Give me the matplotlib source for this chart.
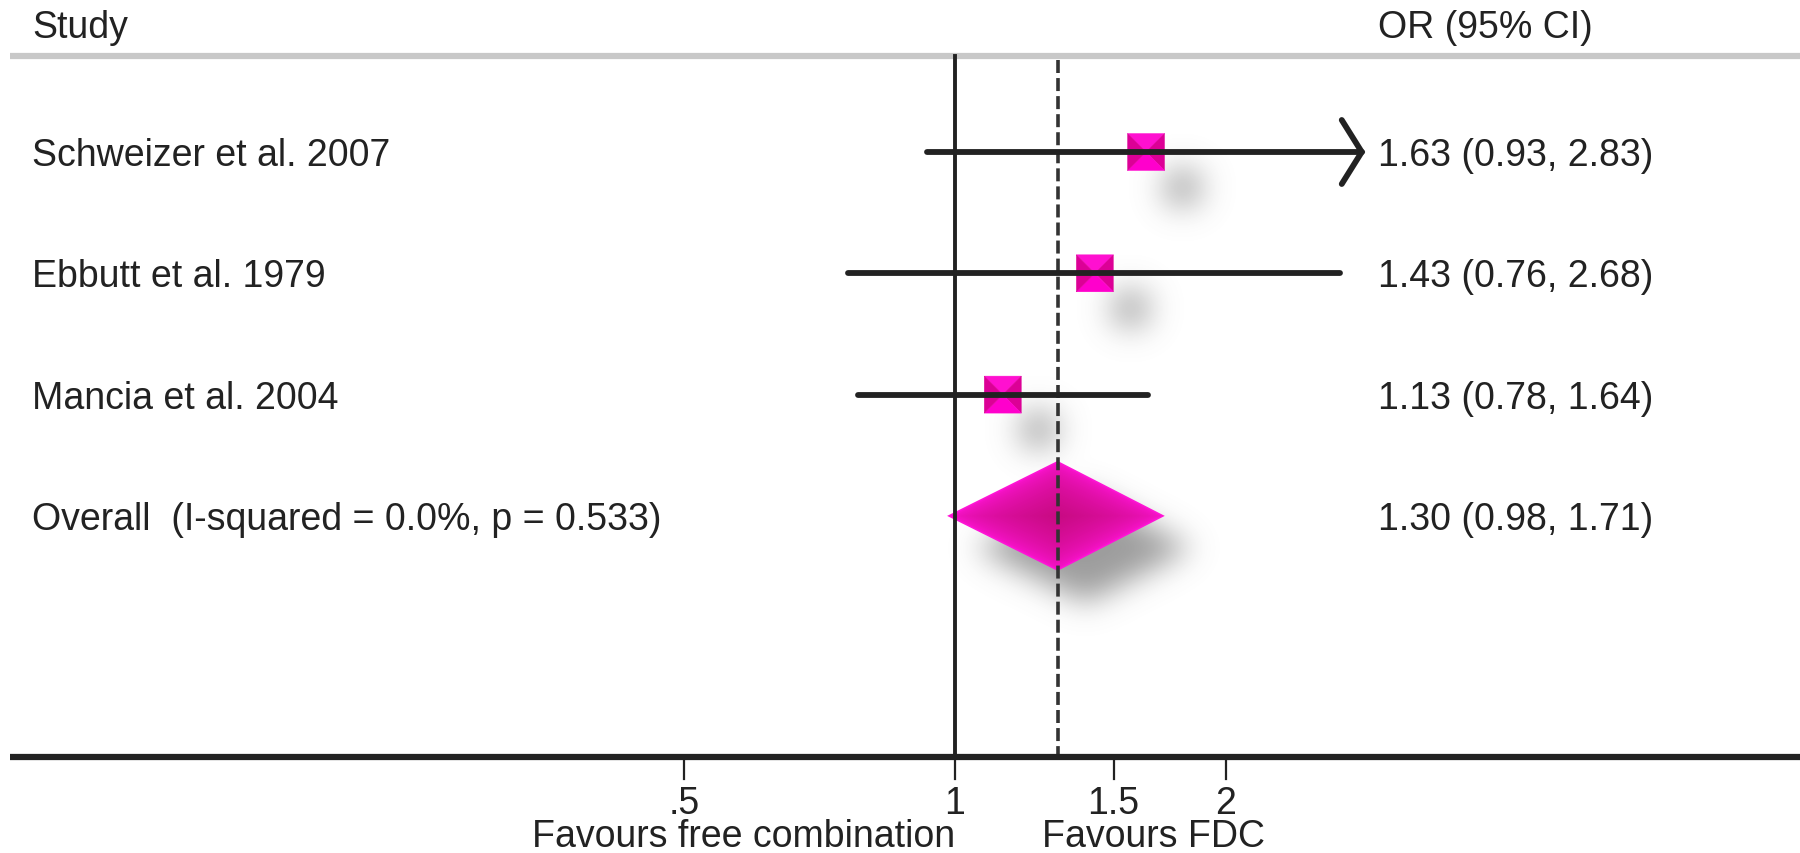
import numpy as np
import matplotlib
matplotlib.use("Agg")
import matplotlib.pyplot as plt
from matplotlib.path import Path
from matplotlib.patches import Polygon

plt.rcParams["font.family"] = ["Liberation Sans", "DejaVu Sans"]

# Study-level odds ratios and 95% confidence intervals
studies = ["Schweizer et al. 2007", "Ebbutt et al. 1979", "Mancia et al. 2004"]
or_est = [1.63, 1.43, 1.13]
ci_low = [0.93, 0.76, 0.78]
ci_high = [2.83, 2.68, 1.64]
ci_text = ["1.63 (0.93, 2.83)", "1.43 (0.76, 2.68)", "1.13 (0.78, 1.64)"]

overall_label = "Overall  (I-squared = 0.0%, p = 0.533)"
overall_or = 1.30
overall_low = 0.98
overall_high = 1.71
overall_text = "1.30 (0.98, 1.71)"

tick_values = [0.5, 1, 1.5, 2]
tick_labels = [".5", "1", "1.5", "2"]
arrow_clip = [True, False, False]

W, H, DPI = 1800, 854, 100
PINK = "#ff00cc"
PINK_DARK = "#dc0096"
INK = "#222222"
FS = 27

fig = plt.figure(figsize=(W / DPI, H / DPI), dpi=DPI)
ax = fig.add_axes([0, 0, 1, 1])
ax.set_xscale("log")
# 1 sits at x=955px, 391px per natural-log unit
ax.set_xlim(np.exp(-955 / 391), np.exp((W - 955) / 391))
ax.set_ylim(H, 0)
ax.axis("off")

# pixel overlay for shaped markers and soft shadows
pax = fig.add_axes([0, 0, 1, 1], zorder=-1)
pax.set_xlim(0, W)
pax.set_ylim(H, 0)
pax.axis("off")
pax.patch.set_alpha(0)

ROW0, ROW_STEP = 153, 121.3
row_y = [ROW0 + ROW_STEP * i for i in range(len(studies))]
overall_y = ROW0 + ROW_STEP * len(studies)
AXIS_Y, TOP_Y = 758, 57
TXT_DY = 3


def px(x, y):
    d = ax.transData.transform((x, y))
    return d[0], H - d[1]


# header
ax.text(32, 25 + TXT_DY, "Study", fontsize=FS, color=INK, va="center", ha="left",
        transform=pax.transData)
ax.text(1378, 25 + TXT_DY, "OR (95% CI)", fontsize=FS, color=INK, va="center",
        ha="left", transform=pax.transData)
pax.plot([10, W], [TOP_Y, TOP_Y], color="#c8c8c8", lw=4.5, solid_capstyle="butt")

# reference lines
ax.plot([1, 1], [TOP_Y, AXIS_Y], color=INK, lw=2.8, zorder=2)
ax.plot([overall_or, overall_or], [TOP_Y + 4, AXIS_Y], color="#333333", lw=2.6,
        ls=(0, (3.6, 1.4)), zorder=2)

# x axis
ax.plot([np.exp(-945 / 391), ax.get_xlim()[1]], [AXIS_Y, AXIS_Y], color=INK,
        lw=4.5, solid_capstyle="butt", zorder=3)
for v, lab in zip(tick_values, tick_labels):
    ax.plot([v, v], [AXIS_Y, AXIS_Y + 22], color=INK, lw=1.6, zorder=3)
    ax.text(v, 814, lab, fontsize=FS, color=INK, ha="center", va="baseline")
ax.text(1, 847, "Favours free combination", fontsize=FS, color=INK,
        ha="right", va="baseline")
ax.text(np.exp(87 / 391), 847, "Favours FDC", fontsize=FS, color=INK,
        ha="left", va="baseline")

fig.canvas.draw()

# soft drop shadows, rendered into a blurred alpha layer
shadow_mask = np.zeros((H, W))
yy, xx = np.mgrid[0:H, 0:W]
pts = np.column_stack([xx.ravel() + 0.5, yy.ravel() + 0.5])
HALF = 18.5
for est, y in zip(or_est, row_y):
    cx, cy = px(est, y)
    sq = Path([(cx + 36 - HALF, cy + 35 - HALF), (cx + 36 + HALF, cy + 35 - HALF),
               (cx + 36 + HALF, cy + 35 + HALF), (cx + 36 - HALF, cy + 35 + HALF)])
    shadow_mask = np.maximum(shadow_mask,
                             sq.contains_points(pts).reshape(H, W) * 0.55)
lx, _ = px(overall_low, overall_y)
rx, _ = px(overall_high, overall_y)
mx, my = px(overall_or, overall_y)
dh = 55
dia = Path([(lx + 28, my + 32), (mx + 28, my - dh + 32),
            (rx + 28, my + 32), (mx + 28, my + dh + 32)])
shadow_mask = np.maximum(shadow_mask, dia.contains_points(pts).reshape(H, W) * 0.7)

sig = 15.0
ky = np.fft.fftfreq(H)[:, None]
kx = np.fft.rfftfreq(W)[None, :]
gauss = np.exp(-2 * (np.pi * sig) ** 2 * (kx ** 2 + ky ** 2))
blurred = np.fft.irfft2(np.fft.rfft2(shadow_mask) * gauss, s=(H, W))
blurred = np.clip(blurred, 0, 1)
layer = np.zeros((H, W, 4))
layer[..., :3] = 0.45
layer[..., 3] = blurred
pax.imshow(layer, extent=(0, W, H, 0), interpolation="bilinear", zorder=0)

# confidence intervals
for lo, hi, y, clip in zip(ci_low, ci_high, row_y, arrow_clip):
    ax.plot([lo, hi], [y, y], color=INK, lw=4.2, solid_capstyle="round", zorder=4)
    if clip:
        tx, ty = px(hi, y)
        pax.plot([tx - 20, tx, tx - 20], [ty - 32, ty, ty + 32], color=INK,
                 lw=4.2, solid_capstyle="round", solid_joinstyle="miter", zorder=5)

# study squares with bevelled facets
for est, y in zip(or_est, row_y):
    cx, cy = px(est, y)
    c = (cx, cy)
    tl, tr = (cx - HALF, cy - HALF), (cx + HALF, cy - HALF)
    br, bl = (cx + HALF, cy + HALF), (cx - HALF, cy + HALF)
    for tri, col in [((tl, tr, c), "#ff10d0"), ((tr, br, c), PINK_DARK),
                     ((br, bl, c), PINK), ((bl, tl, c), PINK_DARK)]:
        pax.add_patch(Polygon(tri, closed=True, facecolor=col, edgecolor=col,
                              lw=0.3, zorder=6))

# overall diamond with graded shading toward the centre
outer = np.array(matplotlib.colors.to_rgb("#ff14d6"))
inner = np.array(matplotlib.colors.to_rgb("#c80a82"))
for f in np.linspace(1, 0.05, 30):
    t = (1 - f) ** 0.5
    col = outer * (1 - t) + inner * t
    pax.add_patch(Polygon([(mx + (lx - mx) * f, my), (mx, my - dh * f),
                           (mx + (rx - mx) * f, my), (mx, my + dh * f)],
                          closed=True, facecolor=col, edgecolor="none", zorder=6))

# row labels and estimates
for name, txt, y in zip(studies, ci_text, row_y):
    ax.text(32, y + TXT_DY, name, fontsize=FS, color=INK, va="center", ha="left",
            transform=pax.transData)
    ax.text(1378, y + TXT_DY, txt, fontsize=FS, color=INK, va="center", ha="left",
            transform=pax.transData)
ax.text(32, overall_y + TXT_DY, overall_label, fontsize=FS, color=INK,
        va="center", ha="left", transform=pax.transData)
ax.text(1378, overall_y + TXT_DY, overall_text, fontsize=FS, color=INK,
        va="center", ha="left", transform=pax.transData)

fig.savefig("out.png", dpi=DPI, facecolor="white")
